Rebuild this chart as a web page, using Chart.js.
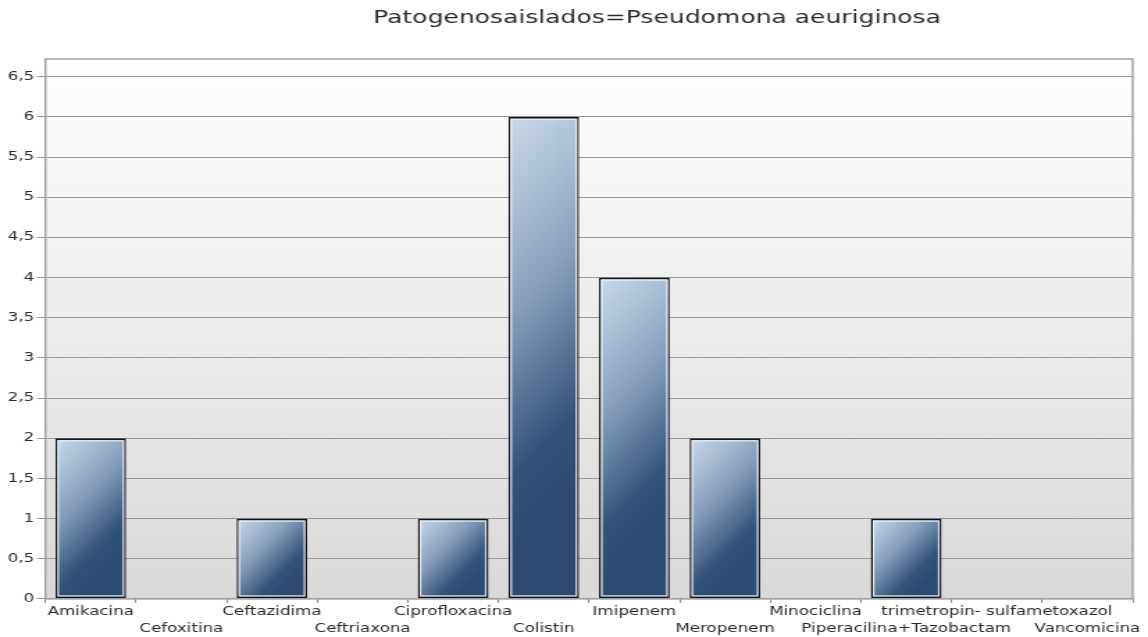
<!DOCTYPE html>
<html>
<head>
<meta charset="utf-8">
<script src="https://cdn.jsdelivr.net/npm/chart.js@4.4.1/dist/chart.umd.min.js"></script>
<style>
  html, body { margin: 0; padding: 0; background: #fff; overflow: hidden; }
  /* the reference picture is stretched sideways, so the chart is drawn narrow and widened */
  #wrap { width: 826px; height: 637px; transform: scaleX(1.3898); transform-origin: 0 0; }
</style>
</head>
<body>
<div id="wrap"><canvas id="c" width="826" height="637"></canvas></div>
<script>
const titleText = 'Patogenosaislados=Pseudomona aeuriginosa';
const categories = ['Amikacina', 'Cefoxitina', 'Ceftazidima', 'Ceftriaxona', 'Ciprofloxacina', 'Colistin',
  'Imipenem', 'Meropenem', 'Minociclina', 'Piperacilina+Tazobactam', 'trimetropin- sulfametoxazol', 'Vancomicina'];
const values = [2, 0, 1, 0, 1, 6, 4, 2, 0, 1, 0, 0];
const yTickValues = [0, 0.5, 1, 1.5, 2, 2.5, 3, 3.5, 4, 4.5, 5, 5.5, 6, 6.5];
const yMax = 6.72;

const STRETCH = 1.3898;
const BAR_PCT = 0.78;
const FONT = '"DejaVu Sans", Verdana, sans-serif';

function barGradient(ctx) {
  const chart = ctx.chart;
  const xs = chart.scales.x, ys = chart.scales.y;
  if (!xs || !ys || !ctx.raw) return '#3a5a80';
  const cx = xs.getPixelForValue(ctx.dataIndex);
  const w = (xs.right - xs.left) / categories.length * BAR_PCT;
  const left = cx - w / 2;
  const top = ys.getPixelForValue(ctx.raw);
  const h = ys.getPixelForValue(0) - top;
  if (![cx, w, top, h].every(Number.isFinite) || h <= 0) return '#3a5a80';
  // 45 degree gradient in the stretched (visible) space
  const a = 0.4 * (w * STRETCH + h);
  const k = 2 * a / (STRETCH * STRETCH + 1);
  const g = chart.ctx.createLinearGradient(left, top, left + STRETCH * k, top + k);
  g.addColorStop(0, '#cbdaec');
  g.addColorStop(0.45, '#87a0be');
  g.addColorStop(0.82, '#34537b');
  g.addColorStop(1, '#2c4a72');
  return g;
}

const plotBackground = {
  id: 'plotBackground',
  beforeDraw(chart) {
    const { ctx, chartArea: a } = chart;
    const g = ctx.createLinearGradient(0, a.top, 0, a.bottom);
    g.addColorStop(0, '#ffffff');
    g.addColorStop(1, '#d9d9d9');
    ctx.save();
    ctx.fillStyle = g;
    ctx.fillRect(a.left, a.top, a.right - a.left, a.bottom - a.top);
    ctx.restore();
  },
  afterDatasetsDraw(chart) {
    const { ctx, chartArea: a } = chart;
    const meta = chart.getDatasetMeta(0);
    ctx.save();
    // light inner edge of each bar
    ctx.strokeStyle = 'rgba(236,242,250,0.85)';
    ctx.lineWidth = 1.2;
    meta.data.forEach((bar, i) => {
      if (!values[i]) return;
      const p = bar.getProps(['x', 'y', 'base', 'width'], true);
      ctx.strokeRect(p.x - p.width / 2 + 2, p.y + 2.6, p.width - 4, p.base - p.y - 5.2);
    });
    // frame of the plot area
    ctx.strokeStyle = '#a3a3a3';
    ctx.lineWidth = 1.5;
    ctx.strokeRect(a.left, a.top, a.right - a.left, a.bottom - a.top);
    ctx.restore();
  },
  afterDraw(chart) {
    const ctx = chart.ctx;
    ctx.save();
    ctx.font = '18px ' + FONT;
    ctx.fillStyle = '#2a2a2a';
    ctx.textAlign = 'center';
    ctx.textBaseline = 'middle';
    ctx.fillText(titleText, 657 / STRETCH, 18);
    ctx.restore();
  }
};

new Chart(document.getElementById('c'), {
  type: 'bar',
  data: {
    labels: categories,
    datasets: [{
      data: values,
      backgroundColor: barGradient,
      borderColor: '#151515',
      borderWidth: ctx => ctx.raw ? { top: 2, bottom: 2, left: 1.5, right: 1.5 } : 0,
      borderSkipped: false,
      barPercentage: BAR_PCT,
      categoryPercentage: 1
    }]
  },
  options: {
    responsive: false,
    animation: false,
    layout: { padding: { top: 59, right: 11, left: 3.6, bottom: 0 } },
    plugins: { legend: { display: false }, title: { display: false }, tooltip: { enabled: false } },
    scales: {
      x: {
        offset: true,
        grid: { offset: true, drawOnChartArea: false, tickLength: 4, color: '#8a8a8a', lineWidth: 1 },
        border: { color: '#9a9a9a', width: 1 },
        ticks: {
          autoSkip: false, maxRotation: 0, minRotation: 0, padding: 0,
          color: '#2a2a2a', font: { family: FONT, size: 12, lineHeight: 1.42 },
          callback: (v, i) => i % 2 ? ['', categories[i]] : categories[i]
        }
      },
      y: {
        min: 0,
        max: yMax,
        afterBuildTicks: axis => { axis.ticks = yTickValues.map(v => ({ value: v })); },
        grid: { color: '#9a9a9a', lineWidth: 1, tickLength: 6 },
        border: { color: '#9a9a9a', width: 1 },
        ticks: {
          padding: 2, color: '#2a2a2a', font: { family: FONT, size: 12 },
          callback: v => String(v).replace('.', ',')
        }
      }
    }
  },
  plugins: [plotBackground]
});
</script>
</body>
</html>
